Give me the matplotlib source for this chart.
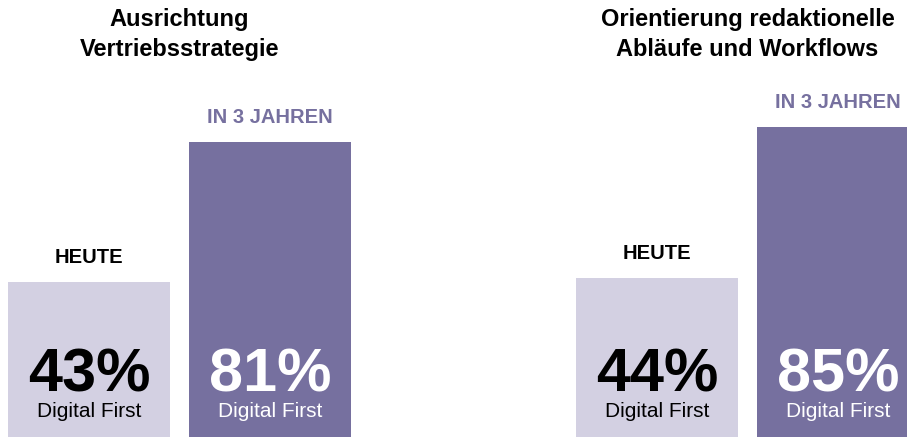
import matplotlib
matplotlib.use("Agg")
import matplotlib.pyplot as plt
import matplotlib.transforms as mtransforms

# ---- data ----
panel_titles = ["Ausrichtung\nVertriebsstrategie",
                "Orientierung redaktionelle\nAbläufe und Workflows"]
categories = ["HEUTE", "IN 3 JAHREN"]
values_left = [43, 81]
values_right = [44, 85]
sub_label = "Digital First"

# ---- style ----
light = "#D3D0E2"
dark = "#76709F"
font = "Liberation Sans"

W, H = 907, 437
fig = plt.figure(figsize=(W / 100, H / 100), dpi=100)
ax = fig.add_axes([0, 0, 1, 1])
ax.set_xlim(0, W)
# y: percentage; value 0 lies slightly below the bottom edge
k = 3.684          # pixels per percent
base_px = 440.4    # pixel row (from top) of value 0
ax.set_ylim((base_px - H) / k, base_px / k)
ax.axis("off")

bar_w = 162
group_starts = [8, 576]
gap = 19
panels = [values_left, values_right]
colors = [light, dark]
txt_colors = ["black", "white"]
lab_colors = ["black", dark]
blend = mtransforms.blended_transform_factory(ax.transData, ax.transAxes)

for gi, (g0, vals, title) in enumerate(zip(group_starts, panels, panel_titles)):
    xs = [g0 + bar_w / 2 + i * (bar_w + gap) for i in range(len(vals))]
    ax.bar(xs, vals, width=bar_w, color=colors, linewidth=0)
    for x, v, cat, tc, lc in zip(xs, vals, categories, txt_colors, lab_colors):
        ax.annotate(cat, xy=(x, v), xytext=(0, 19), textcoords="offset pixels",
                    ha="center", va="baseline", fontsize=14.5, fontweight="bold",
                    color=lc, family=font, annotation_clip=False)
        ax.annotate(f"{v}%", xy=(x, 0), xytext=(0, 48.4), textcoords="offset pixels",
                    ha="center", va="baseline", fontsize=44, fontweight="bold",
                    color=tc, family=font, annotation_clip=False)
        ax.annotate(sub_label, xy=(x, 0), xytext=(0, 23.4), textcoords="offset pixels",
                    ha="center", va="baseline", fontsize=15,
                    color=tc, family=font, annotation_clip=False)
    mid = (xs[0] - bar_w / 2 + xs[-1] + bar_w / 2) / 2
    ax.text(mid, 1 - 8 / H, title, transform=blend,
            ha="center", va="top", fontsize=17, fontweight="bold", color="black",
            family=font, linespacing=1.38, multialignment="center")

fig.savefig("out.png", dpi=100)
